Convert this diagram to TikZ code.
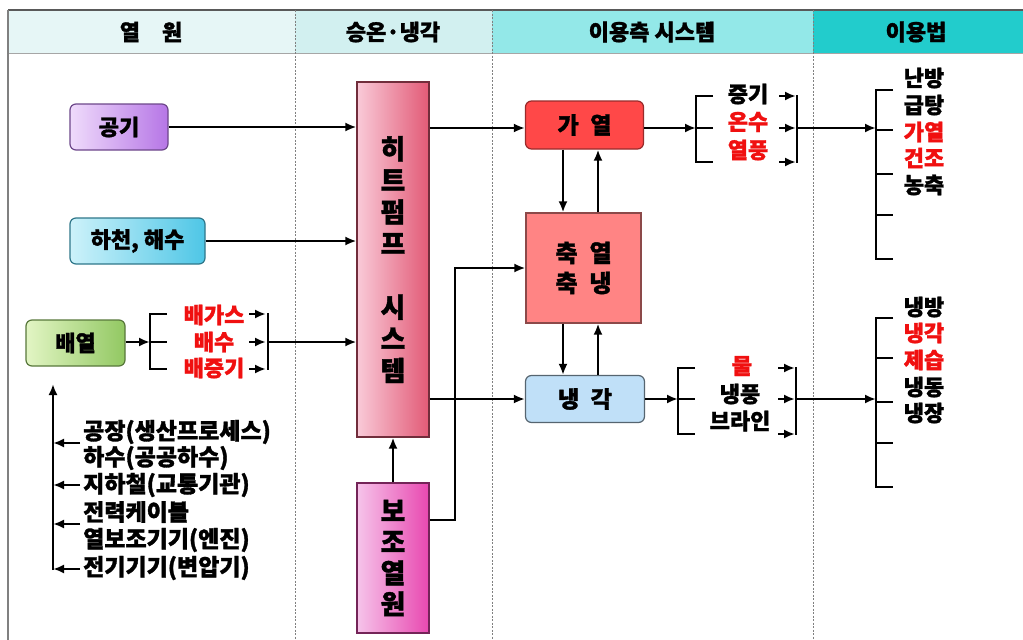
\documentclass[tikz,border=0pt]{standalone}
\usepackage{fontspec}
\setmainfont{Noto Sans CJK KR}[BoldFeatures={FakeBold=1.4}]
\usetikzlibrary{arrows.meta,calc}
\definecolor{hA}{HTML}{E6F6F6}
\definecolor{hB}{HTML}{D2F0F0}
\definecolor{hC}{HTML}{93E8E8}
\definecolor{hD}{HTML}{22CCCC}
\definecolor{redtxt}{HTML}{F01010}
\definecolor{gongL}{HTML}{EFDBFB}
\definecolor{gongR}{HTML}{B676E6}
\definecolor{haL}{HTML}{CDF2FA}
\definecolor{haR}{HTML}{4EC6E6}
\definecolor{baeL}{HTML}{E2F5C4}
\definecolor{baeR}{HTML}{92C862}
\definecolor{hpL}{HTML}{F9CAD8}
\definecolor{hpR}{HTML}{E25A76}
\definecolor{auxL}{HTML}{F6C4EA}
\definecolor{auxR}{HTML}{E848B0}
\definecolor{gaF}{HTML}{FF4848}
\definecolor{chF}{HTML}{FF8484}
\definecolor{naF}{HTML}{C0E0F8}
\begin{document}
\begin{tikzpicture}[x=1pt,y=-1pt,
  rbox/.style={draw, rounded corners=6pt, line width=1.2pt, inner sep=0pt,
     font=\bfseries\fontsize{22}{22}\selectfont},
  sbox/.style={draw, line width=1.2pt, inner sep=0pt},
  lbl/.style={inner sep=0pt, font=\bfseries\fontsize{22}{22}\selectfont},
  src/.style={inner sep=0pt, anchor=west, font=\bfseries\fontsize{23}{23}\selectfont},
  hdr/.style={inner sep=0pt, font=\bfseries\fontsize{22}{22}\selectfont},
  vtxt/.style={align=center, font=\bfseries\fontsize{27}{31.7}\selectfont},
  ln/.style={line width=2.6pt},
  arr/.style={line width=2.6pt, -{Latex[length=11pt,width=9pt]}},
  divider/.style={gray, line width=1pt, dash pattern=on 2pt off 1.5pt}]
\useasboundingbox (0,0) rectangle (1023,640);
\fill[white] (0,0) rectangle (1023,640);

% header
\fill[hA] (8,10) rectangle (295,53);
\fill[hB] (295,10) rectangle (492,53);
\fill[hC] (492,10) rectangle (813,53);
\fill[hD] (813,10) rectangle (1023,53);
\draw[gray!70, line width=1pt] (8,53) -- (1023,53);
\draw[black!65, line width=1.2pt] (8,10) -- (1023,10);
\draw[gray, line width=1.5pt] (8,10) -- (8,640);
\foreach \xx in {295,492,813} \draw[divider] (\xx,10) -- (\xx,640);
\node[hdr] (h1) at (151,32) {열\quad 원};
\node[hdr] (h2) at (393,32) {승온·냉각};
\node[hdr] (h3) at (652,32) {이용측 시스템};
\node[hdr] (h4) at (916,32) {이용법};

% row levels
\coordinate (rowA) at (0,128);
\coordinate (rowAux) at (0,520);
\coordinate (colL) at (563,0);
\coordinate (colR) at (598,0);

% heat sources
\node[rbox, draw=gongR!60!black, left color=gongL, right color=gongR,
      minimum width=98pt, minimum height=46pt] (gong) at (119,127) {공기};
\node[rbox, draw=haR!60!black, left color=haL, right color=haR,
      minimum width=135pt, minimum height=46pt] (ha) at (137.5,241) {하천, 해수};
\node[rbox, draw=baeR!60!black, left color=baeL, right color=baeR,
      minimum width=99pt, minimum height=46pt] (bae) at (75.5,343) {배열};

% heat pump and auxiliary source
\node[sbox, draw=hpR!50!black, left color=hpL, right color=hpR,
      minimum width=72pt, minimum height=355pt, vtxt] (hp) at (393,259.5)
      {히\\트\\펌\\프\\[31.7pt]시\\스\\템};
\node[sbox, draw=auxR!50!black, left color=auxL, right color=auxR,
      minimum width=72pt, minimum height=150pt, vtxt,
      font=\bfseries\fontsize{27}{31}\selectfont] (aux) at (393,558)
      {보\\조\\열\\원};

% user side system
\node[rbox, fill=gaF, draw=gaF!60!black, minimum width=118pt, minimum height=48pt,
      font=\bfseries\fontsize{23}{23}\selectfont] (ga) at (584.5,125) {가\enspace 열};
\node[sbox, fill=chF, draw=chF!55!black, minimum width=115pt, minimum height=110pt,
      align=center, font=\bfseries\fontsize{24}{30}\selectfont] (ch) at (583.5,268) {축\enspace 열\\축\enspace 냉};
\node[rbox, fill=naF, draw=naF!45!black, minimum width=119pt, minimum height=47pt,
      font=\bfseries\fontsize{23}{23}\selectfont] (na) at (585,399) {냉\enspace 각};

% source arrows
\draw[arr] (gong.east) -- (gong.east -| hp.west);
\draw[arr] (ha.east) -- (ha.east -| hp.west);

% exhaust heat bracket
\coordinate (b1L) at (150,342);
\coordinate (b1R) at (267,342);
\node[lbl, text=redtxt] (bg) at (214,315) {배가스};
\node[lbl, text=redtxt] (bs) at (214,342) {배수};
\node[lbl, text=redtxt] (bj) at (214,368) {배증기};
\draw[arr] (bae.east |- b1L) -- (b1L);
\draw[ln] (167,314) -- (150,314) -- (150,369) -- (167,369);
\draw[ln] (b1L) -- (167,342);
\draw[arr] (249,314) -- (266,314);
\draw[arr] (249,342) -- (266,342);
\draw[arr] (249,369) -- (266,369);
\draw[ln] (268,313) -- (268,370);
\draw[arr] (b1R) -- (b1R -| hp.west);

% waste heat list
\node[src] (s1) at (83,432) {공장(생산프로세스)};
\node[src] (s2) at (83,458) {하수(공공하수)};
\node[src] (s3) at (83,485) {지하철(교통기관)};
\node[src] (s4) at (83,512) {전력케이블};
\node[src] (s5) at (83,540) {열보조기기(엔진)};
\node[src] (s6) at (83,568) {전기기기(변압기)};
\coordinate (vb) at (53,570);
\draw[arr] (vb) -- (53,384);
\draw[arr] (80,443) -- (53,443);
\draw[arr] (80,485) -- (53,485);
\draw[arr] (80,524) -- (53,524);
\draw[arr] (80,569) -- (53,569);

% heat pump connections
\draw[arr] (aux.north) -- (hp.south);
\draw[arr] (hp.east |- rowA) -- (ga.west |- rowA);
\draw[arr] (hp.east |- na.west) -- (na.west);
\draw[arr] (aux.east |- rowAux) -- (455,520) |- (ch.west);

% between user side boxes
\draw[arr] (ga.south -| colL) -- (ch.north -| colL);
\draw[arr] (ch.north -| colR) -- (ga.south -| colR);
\draw[arr] (ch.south -| colL) -- (na.north -| colL);
\draw[arr] (na.north -| colR) -- (ch.south -| colR);

% heating outputs bracket
\coordinate (b2L) at (696,128);
\coordinate (b2R) at (797,128);
\node[lbl] (t1) at (748,94) {증기};
\node[lbl, text=redtxt] (t2) at (748,122) {온수};
\node[lbl, text=redtxt] (t3) at (748,150) {열풍};
\draw[arr] (ga.east |- rowA) -- (b2L);
\draw[ln] (713,96) -- (696,96) -- (696,162) -- (713,162);
\draw[ln] (b2L) -- (713,128);
\draw[arr] (779,96) -- (796,96);
\draw[arr] (779,128) -- (796,128);
\draw[arr] (779,162) -- (796,162);
\draw[ln] (797,95) -- (797,163);

% cooling outputs bracket
\coordinate (b3L) at (678,399);
\coordinate (b3R) at (796,399);
\node[lbl, text=redtxt] (c1) at (742,366) {물};
\node[lbl] (c2) at (740,394) {냉풍};
\node[lbl] (c3) at (740,421) {브라인};
\draw[arr] (na.east) -- (b3L);
\draw[ln] (695,368) -- (678,368) -- (678,434) -- (695,434);
\draw[ln] (b3L) -- (695,399);
\draw[arr] (778,368) -- (795,368);
\draw[arr] (778,399) -- (795,399);
\draw[arr] (778,434) -- (795,434);
\draw[ln] (796,367) -- (796,435);

% use methods - heating
\coordinate (u1) at (876,128);
\draw[arr] (b2R) -- (u1);
\draw[ln] (893,90) -- (876,90) -- (876,259) -- (893,259);
\foreach \yy in {130,174,215} \draw[ln] (876,\yy) -- (893,\yy);
\node[lbl] (m1) at (924,78) {난방};
\node[lbl] (m2) at (924,105) {급탕};
\node[lbl, text=redtxt] (m3) at (924,132) {가열};
\node[lbl, text=redtxt] (m4) at (924,158) {건조};
\node[lbl] (m5) at (924,185) {농축};

% use methods - cooling
\coordinate (u2) at (876,399);
\draw[arr] (b3R) -- (u2);
\draw[ln] (893,318) -- (876,318) -- (876,487) -- (893,487);
\foreach \yy in {358,402,443} \draw[ln] (876,\yy) -- (893,\yy);
\node[lbl] (n1) at (924,307) {냉방};
\node[lbl, text=redtxt] (n2) at (924,333) {냉각};
\node[lbl, text=redtxt] (n3) at (924,360) {제습};
\node[lbl] (n4) at (924,387) {냉동};
\node[lbl] (n5) at (924,413) {냉장};
\end{tikzpicture}
\end{document}
